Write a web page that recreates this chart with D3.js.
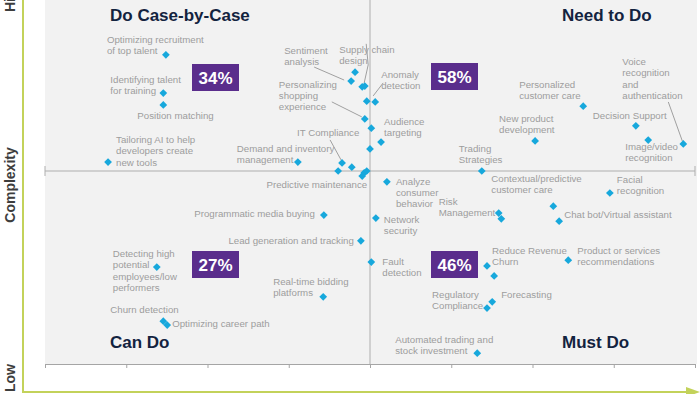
<!DOCTYPE html>
<html>
<head>
<meta charset="utf-8">
<script src="https://cdn.jsdelivr.net/npm/d3@7"></script>
<style>
  body { margin: 0; background: #fff; }
  svg { display: block; font-family: "Liberation Sans", Arial, sans-serif; }
  .label { fill: #9d9d9d; font-size: 9.7px; }
  .quadrant-title { fill: #13233f; font-size: 17px; font-weight: bold; }
  .share { fill: #fff; font-size: 17px; font-weight: bold; }
  .axis-title { fill: #3d3d3d; font-size: 14px; font-weight: bold; }
</style>
</head>
<body>
<svg id="matrix"></svg>
<script>
// use cases (empty name = unlabelled point)
const useCases = [
    "Optimizing recruitment of top talent", "Identifying talent for training", "Position matching",
    "Tailoring AI to help developers create new tools", "Demand and inventory management",
    "Sentiment analysis", "", "Supply chain design", "", "", "Anomaly detection",
    "Personalizing shopping experience", "", "Audience targeting", "", "IT Compliance", "", "",
    "Predictive maintenance", "", "", "Analyze consumer behavior", "Trading Strategies",
    "New product development", "Personalized customer care", "Decision Support",
    "Image/video recognition", "Voice recognition and authentication", "Facial recognition",
    "Contextual/predictive customer care", "Chat bot/Virtual assistant", "Risk Management", "",
    "Programmatic media buying", "Network security", "Lead generation and tracking",
    "Fault detection", "Real-time bidding platforms", "Reduce Revenue Churn", "",
    "Product or services recommendations", "Forecasting", "Regulatory Compliance",
    "Automated trading and stock investment", "Detecting high potential employees/low performers",
    "Churn detection", "Optimizing career path"
];
// business value (x) and complexity (y), 0-100
const valueScores = [
    18.6, 18.2, 18.2, 9.7, 38.9, 47.1, 47.7, 48.8, 49.2, 49.5, 50.8, 49.2, 50.2, 51.7, 50.0,
    45.7, 45.1, 47.2, 48.8, 49.1, 49.5, 52.6, 67.2, 75.4, 82.8, 90.9, 92.8, 98.2, 86.9, 78.2,
    79.1, 69.8, 70.2, 42.9, 50.9, 48.6, 50.2, 42.8, 68.0, 69.1, 80.5, 68.8, 68.0, 66.5, 17.2,
    18.2, 18.8
];
const complexityScores = [
    80.1, 70.2, 67.1, 52.3, 52.3, 73.3, 75.6, 71.8, 72.0, 68.1, 67.9, 63.5, 61.1, 57.5, 55.7,
    52.1, 50.0, 51.0, 48.7, 49.5, 50.0, 47.2, 50.0, 57.8, 66.8, 61.7, 58.0, 57.0, 44.3, 40.9,
    37.0, 39.1, 37.6, 38.6, 37.8, 31.9, 26.4, 17.4, 25.4, 22.8, 26.9, 16.1, 14.5, 2.8, 25.1,
    11.1, 10.1
];
const quadrants = ["Do Case-by-Case", "Need to Do", "Can Do", "Must Do"];
const shares = [34, 58, 27, 46];

// label layout: lines, offset from the point, optional leader line
const labelLayout = {
    "Optimizing recruitment of top talent": { lines: ["Optimizing recruitment", "of top talent"], dx: -59, dy: -12 },
    "Identifying talent for training": { lines: ["Identifying talent", "for training"], dx: -53, dy: -10 },
    "Position matching": { lines: ["Position matching"], dx: -26, dy: 14 },
    "Tailoring AI to help developers create new tools": { lines: ["Tailoring AI to help", "developers create", "new tools"], dx: 8, dy: -19 },
    "Demand and inventory management": { lines: ["Demand and inventory", "management"], dx: -61, dy: -10 },
    "Sentiment analysis": { lines: ["Sentiment", "analysis"], dx: -67, dy: -27, leader: [[-37, -14], [-7, -1]] },
    "Supply chain design": { lines: ["Supply chain", "design"], dx: -23, dy: -34, leader: [[4, -43], [6, -22], [2, -4]] },
    "Anomaly detection": { lines: ["Anomaly", "detection"], dx: 6, dy: -24, leader: [[8, -19], [-2, -6]] },
    "Personalizing shopping experience": { lines: ["Personalizing", "shopping", "experience"], dx: -86, dy: -31, leader: [[-33, -17], [-3, -2]] },
    "Audience targeting": { lines: ["Audience", "targeting"], dx: 3, dy: -17 },
    "IT Compliance": { lines: ["IT Compliance"], dx: -45, dy: -27, leader: [[-12, -23], [-1, -3]] },
    "Predictive maintenance": { lines: ["Predictive maintenance"], dx: 5, dy: 12, anchor: "end" },
    "Analyze consumer behavior": { lines: ["Analyze", "consumer", "behavior"], dx: 9, dy: 3 },
    "Trading Strategies": { lines: ["Trading", "Strategies"], dx: -23, dy: -19 },
    "New product development": { lines: ["New product", "development"], dx: -36, dy: -19 },
    "Personalized customer care": { lines: ["Personalized", "customer care"], dx: -64, dy: -18 },
    "Decision Support": { lines: ["Decision Support"], dx: -43, dy: -7 },
    "Image/video recognition": { lines: ["Image/video", "recognition"], dx: -23, dy: 10 },
    "Voice recognition and authentication": { lines: ["Voice", "recognition", "and", "authentication"], dx: -61, dy: -79, leader: [[-15, -42], [-1, -3]] },
    "Facial recognition": { lines: ["Facial", "recognition"], dx: 7, dy: -10 },
    "Contextual/predictive customer care": { lines: ["Contextual/predictive", "customer care"], dx: -62, dy: -24 },
    "Chat bot/Virtual assistant": { lines: ["Chat bot/Virtual assistant"], dx: 5, dy: -3 },
    "Risk Management": { lines: ["Risk", "Management"], dx: -60, dy: -8 },
    "Programmatic media buying": { lines: ["Programmatic media buying"], dx: -9, dy: 2, anchor: "end" },
    "Network security": { lines: ["Network", "security"], dx: 8, dy: 5 },
    "Lead generation and tracking": { lines: ["Lead generation and tracking"], dx: -7, dy: 3, anchor: "end" },
    "Fault detection": { lines: ["Fault", "detection"], dx: 11, dy: 3 },
    "Real-time bidding platforms": { lines: ["Real-time bidding", "platforms"], dx: -50, dy: -12 },
    "Reduce Revenue Churn": { lines: ["Reduce Revenue", "Churn"], dx: 5, dy: -12 },
    "Product or services recommendations": { lines: ["Product or services", "recommendations"], dx: 9, dy: -6 },
    "Forecasting": { lines: ["Forecasting"], dx: 9, dy: -4 },
    "Regulatory Compliance": { lines: ["Regulatory", "Compliance"], dx: -55, dy: -10 },
    "Automated trading and stock investment": { lines: ["Automated trading and", "stock investment"], dx: -82, dy: -10 },
    "Detecting high potential employees/low performers": { lines: ["Detecting high", "potential", "employees/low", "performers"], dx: -44, dy: -10 },
    "Churn detection": { lines: ["Churn detection"], dx: -53, dy: -8 },
    "Optimizing career path": { lines: ["Optimizing career path"], dx: 5, dy: 2 }
};
// quadrant title and share box placement
const quadrantLayout = [
    { tx: 110, ty: 21, bx: 192, by: 64 },
    { tx: 562, ty: 21, bx: 431, by: 63 },
    { tx: 110, ty: 348, bx: 192, by: 251 },
    { tx: 562, ty: 348, bx: 431, by: 251 }
];

const width = 700, height = 394, lineHeight = 11.3;
const svg = d3.select("#matrix").attr("width", width).attr("height", height);

const x = d3.scaleLinear().domain([0, 100]).range([45, 695]);
const y = d3.scaleLinear().domain([0, 100]).range([364, -22]);

// panel
svg.append("rect")
    .attr("x", x(0)).attr("y", 0)
    .attr("width", x(100) - x(0) + 2).attr("height", y(0))
    .attr("fill", "#f2f2f2");

// quadrant dividers
svg.append("line")
    .attr("x1", x(50)).attr("x2", x(50))
    .attr("y1", 0).attr("y2", y(0))
    .attr("stroke", "#aeaeae");
svg.append("path")
    .attr("d", `M${x(0)},${y(50) - 5}V${y(50) + 5}M${x(0)},${y(50)}H${x(100)}M${x(100)},${y(50) - 5}V${y(50) + 5}`)
    .attr("stroke", "#aeaeae").attr("fill", "none");

// bottom axis
svg.append("g")
    .attr("transform", `translate(0,${y(0)})`)
    .call(d3.axisBottom(x).tickValues(d3.range(0, 101, 12.5)).tickSize(4).tickSizeOuter(4).tickFormat(""))
    .call(g => g.selectAll("path, line").attr("stroke", "#a5a5a5"));

// green frame axes with arrow
const green = "#c3d25a";
svg.append("path")
    .attr("d", `M23,0V392H688`)
    .attr("stroke", green).attr("stroke-width", 2).attr("fill", "none");
svg.append("path")
    .attr("d", "M686,387L700,392L686,397Z")
    .attr("fill", green);

// axis titles
[["High", 12, "start"], ["Complexity", 185, "middle"], ["Low", 392, "start"]].forEach(([t, yy, anchor]) => {
    svg.append("text")
        .attr("class", "axis-title")
        .attr("transform", `translate(15,${yy}) rotate(-90)`)
        .attr("text-anchor", anchor)
        .text(t);
});

// quadrant titles and share boxes
quadrants.forEach((q, i) => {
    const pos = quadrantLayout[i];
    svg.append("text").attr("class", "quadrant-title")
        .attr("x", pos.tx).attr("y", pos.ty).text(q);
    svg.append("rect")
        .attr("x", pos.bx).attr("y", pos.by)
        .attr("width", 47).attr("height", 27)
        .attr("fill", "#5a2d8c");
    svg.append("text").attr("class", "share")
        .attr("x", pos.bx + 23.5).attr("y", pos.by + 19.5)
        .attr("text-anchor", "middle")
        .text(shares[i] + "%");
});

const points = useCases.map((name, i) => ({ name, vx: valueScores[i], vy: complexityScores[i] }));

// leader lines
const leaderLine = d3.line();
points.filter(p => labelLayout[p.name] && labelLayout[p.name].leader).forEach(p => {
    const px = x(p.vx), py = y(p.vy);
    svg.append("path")
        .attr("d", leaderLine(labelLayout[p.name].leader.map(([dx, dy]) => [px + dx, py + dy])))
        .attr("stroke", "#8a8a8a").attr("stroke-width", 0.8).attr("fill", "none");
});

// labels
points.filter(p => labelLayout[p.name]).forEach(p => {
    const lay = labelLayout[p.name];
    const t = svg.append("text")
        .attr("class", "label")
        .attr("text-anchor", lay.anchor || "start");
    lay.lines.forEach((line, j) => {
        t.append("tspan")
            .attr("x", x(p.vx) + lay.dx)
            .attr("y", y(p.vy) + lay.dy + j * lineHeight)
            .text(line);
    });
});

// markers
svg.selectAll(".marker")
    .data(points)
    .join("path")
        .attr("class", "marker")
        .attr("d", d3.symbol().type(d3.symbolSquare).size(30))
        .attr("transform", d => `translate(${x(d.vx)},${y(d.vy)}) rotate(45)`)
        .attr("fill", "#17a8dc");
</script>
</body>
</html>
